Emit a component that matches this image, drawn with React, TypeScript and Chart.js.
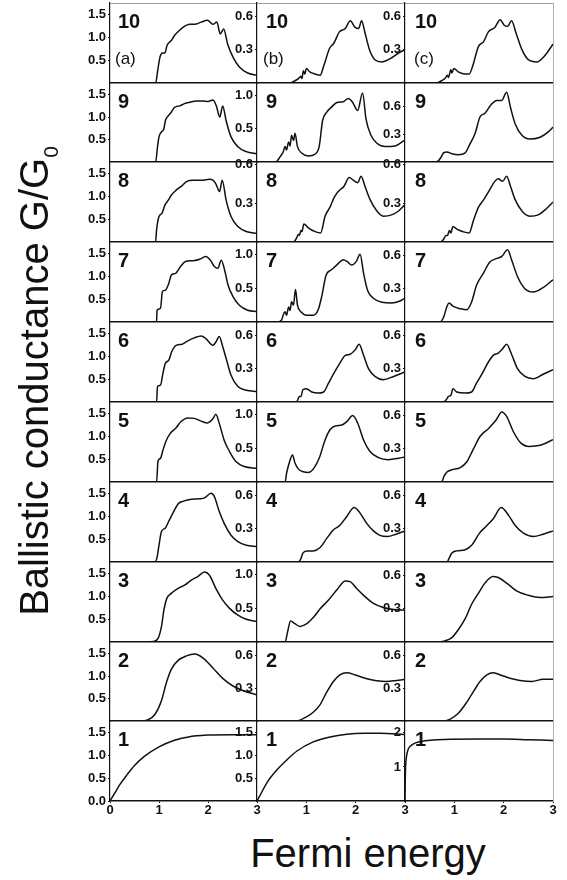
import React, { useEffect, useRef } from 'react';
import { Chart, registerables } from 'chart.js';

Chart.register(...registerables);

type Pt = [number, number];

// ---------------- data (Fermi energy, G/G0) ----------------
const a10: Pt[] = [[0,0],[0.93,0],[0.98,0.32],[1.02,0.57],[1.07,0.66],[1.12,0.66],[1.165,0.83],[1.255,0.94],[1.32,1.05],[1.42,1.16],[1.525,1.25],[1.625,1.29],[1.76,1.30],[1.86,1.34],[1.99,1.38],[2.10,1.29],[2.18,1.34],[2.25,1.08],[2.32,1.19],[2.40,0.86],[2.51,0.57],[2.64,0.35],[2.81,0.22],[3.0,0.17]];
const a9: Pt[] = [[0,0],[0.93,0],[0.97,0.34],[1.0,0.56],[1.05,0.67],[1.10,0.74],[1.13,0.92],[1.19,1.03],[1.25,1.11],[1.32,1.22],[1.42,1.25],[1.52,1.30],[1.63,1.33],[1.76,1.36],[1.90,1.36],[2.0,1.35],[2.10,1.38],[2.17,1.25],[2.24,1.0],[2.30,1.25],[2.37,0.92],[2.47,0.56],[2.61,0.34],[2.78,0.23],[3.0,0.18]];
const a8: Pt[] = [[0,0],[0.93,0],[0.95,0.26],[1.0,0.56],[1.06,0.63],[1.12,0.81],[1.19,0.92],[1.25,1.03],[1.35,1.14],[1.46,1.23],[1.56,1.33],[1.70,1.36],[1.90,1.36],[2.03,1.38],[2.10,1.36],[2.16,1.28],[2.236,1.11],[2.29,1.36],[2.37,0.92],[2.47,0.56],[2.61,0.34],[2.78,0.23],[3.0,0.19]];
const a7: Pt[] = [[0,0],[0.95,0],[0.96,0.26],[1.03,0.30],[1.07,0.67],[1.13,0.70],[1.20,0.85],[1.25,1.03],[1.34,1.07],[1.44,1.22],[1.54,1.33],[1.70,1.35],[1.83,1.38],[1.95,1.44],[2.05,1.36],[2.13,1.22],[2.20,1.18],[2.27,1.36],[2.34,1.14],[2.41,0.81],[2.51,0.56],[2.64,0.37],[2.81,0.26],[3.0,0.23]];
const a6: Pt[] = [[0,0],[0.95,0],[0.97,0.34],[1.03,0.37],[1.08,0.63],[1.13,0.85],[1.20,0.92],[1.26,1.11],[1.36,1.25],[1.47,1.27],[1.58,1.34],[1.72,1.41],[1.86,1.45],[1.96,1.39],[2.10,1.25],[2.16,1.32],[2.23,1.44],[2.30,1.22],[2.38,0.92],[2.47,0.59],[2.61,0.34],[2.78,0.26],[3.0,0.23]];
const a5: Pt[] = [[0,0],[0.95,0],[0.98,0.46],[1.03,0.52],[1.08,0.70],[1.15,0.92],[1.23,1.07],[1.34,1.18],[1.45,1.33],[1.59,1.41],[1.72,1.40],[1.86,1.34],[1.99,1.30],[2.10,1.39],[2.16,1.49],[2.23,1.29],[2.33,0.92],[2.44,0.67],[2.57,0.45],[2.74,0.34],[3.0,0.30]];
const a4: Pt[] = [[0,0],[0.92,0],[0.96,0.10],[1.0,0.37],[1.05,0.67],[1.13,0.75],[1.21,0.92],[1.30,1.11],[1.40,1.29],[1.50,1.34],[1.66,1.38],[1.83,1.39],[1.93,1.41],[2.06,1.51],[2.13,1.44],[2.23,1.11],[2.33,0.85],[2.47,0.59],[2.61,0.45],[2.78,0.37],[3.0,0.34]];
const a3: Pt[] = [[0,0],[0.75,0],[0.88,0.01],[0.98,0.08],[1.05,0.34],[1.10,0.70],[1.16,0.96],[1.25,1.07],[1.39,1.18],[1.52,1.25],[1.66,1.36],[1.79,1.44],[1.93,1.54],[2.03,1.47],[2.16,1.18],[2.30,0.92],[2.44,0.74],[2.61,0.59],[2.78,0.50],[3.0,0.45]];
const a2: Pt[] = [[0,0],[0.61,0],[0.78,0.03],[0.92,0.15],[1.05,0.45],[1.15,0.85],[1.25,1.15],[1.39,1.35],[1.56,1.45],[1.73,1.49],[1.90,1.40],[2.10,1.18],[2.30,0.95],[2.51,0.78],[2.71,0.68],[3.0,0.58]];
const a1: Pt[] = [[0,0],[0.1,0.18],[0.2,0.36],[0.35,0.58],[0.5,0.78],[0.7,0.98],[1.0,1.19],[1.3,1.33],[1.6,1.41],[2.0,1.45],[2.5,1.46],[3.0,1.46]];

const b10: Pt[] = [[0,0],[0.67,0],[0.77,0.02],[0.84,0.04],[0.89,0.06],[0.91,0.04],[0.94,0.11],[0.97,0.08],[1.0,0.13],[1.07,0.10],[1.18,0.08],[1.28,0.07],[1.35,0.15],[1.47,0.31],[1.56,0.36],[1.67,0.46],[1.79,0.49],[1.89,0.56],[1.99,0.50],[2.06,0.49],[2.12,0.56],[2.19,0.45],[2.28,0.30],[2.39,0.21],[2.53,0.19],[2.70,0.22],[2.87,0.27],[3.0,0.30]];
const b9: Pt[] = [[0,0],[0.38,0],[0.47,0.08],[0.53,0.15],[0.57,0.23],[0.60,0.18],[0.64,0.30],[0.67,0.24],[0.70,0.40],[0.74,0.32],[0.77,0.43],[0.82,0.23],[0.91,0.13],[1.04,0.09],[1.18,0.12],[1.26,0.23],[1.33,0.62],[1.41,0.74],[1.51,0.82],[1.62,0.89],[1.75,0.90],[1.85,0.95],[1.94,0.89],[2.04,0.77],[2.14,1.03],[2.21,0.64],[2.31,0.40],[2.43,0.28],[2.60,0.23],[2.80,0.24],[3.0,0.33]];
const b8: Pt[] = [[0,0],[0.74,0],[0.80,0.03],[0.84,0.06],[0.86,0.05],[0.89,0.09],[0.91,0.08],[0.95,0.14],[1.04,0.11],[1.18,0.08],[1.29,0.07],[1.38,0.20],[1.48,0.27],[1.57,0.35],[1.67,0.40],[1.76,0.43],[1.87,0.50],[1.95,0.48],[2.04,0.46],[2.11,0.51],[2.19,0.43],[2.29,0.33],[2.43,0.24],[2.56,0.20],[2.73,0.21],[2.87,0.24],[3.0,0.29]];
const b7: Pt[] = [[0,0],[0.42,0],[0.50,0.03],[0.53,0.10],[0.57,0.15],[0.60,0.10],[0.64,0.22],[0.67,0.17],[0.70,0.30],[0.74,0.25],[0.78,0.48],[0.82,0.25],[0.89,0.15],[1.01,0.10],[1.14,0.10],[1.24,0.18],[1.31,0.37],[1.40,0.69],[1.51,0.77],[1.63,0.85],[1.75,0.92],[1.83,0.89],[1.92,0.84],[2.01,0.89],[2.09,1.00],[2.16,0.72],[2.24,0.47],[2.36,0.35],[2.53,0.29],[2.73,0.28],[2.90,0.31],[3.0,0.35]];
const b6: Pt[] = [[0,0],[0.80,0],[0.86,0.05],[0.89,0.05],[0.93,0.11],[1.0,0.12],[1.11,0.09],[1.24,0.08],[1.35,0.09],[1.45,0.17],[1.56,0.26],[1.68,0.35],[1.79,0.42],[1.89,0.43],[1.99,0.47],[2.07,0.52],[2.16,0.42],[2.26,0.30],[2.39,0.23],[2.56,0.20],[2.77,0.23],[3.0,0.27]];
const b5: Pt[] = [[0,0],[0.57,0],[0.60,0.13],[0.66,0.30],[0.72,0.40],[0.77,0.28],[0.84,0.19],[0.94,0.15],[1.04,0.14],[1.14,0.19],[1.26,0.35],[1.38,0.62],[1.48,0.77],[1.60,0.83],[1.72,0.84],[1.82,0.89],[1.94,0.98],[2.04,0.87],[2.16,0.62],[2.29,0.45],[2.46,0.36],[2.66,0.33],[2.87,0.35],[3.0,0.37]];
const b4: Pt[] = [[0,0],[0.84,0],[0.89,0.03],[0.93,0.08],[1.01,0.10],[1.14,0.10],[1.28,0.13],[1.41,0.21],[1.55,0.29],[1.68,0.33],[1.82,0.41],[1.97,0.49],[2.09,0.44],[2.22,0.35],[2.36,0.28],[2.49,0.24],[2.64,0.23],[2.82,0.25],[3.0,0.28]];
const b3: Pt[] = [[0,0],[0.57,0],[0.62,0.15],[0.68,0.31],[0.77,0.27],[0.87,0.23],[1.01,0.27],[1.14,0.36],[1.28,0.49],[1.45,0.62],[1.62,0.77],[1.79,0.90],[1.89,0.89],[2.02,0.79],[2.19,0.67],[2.36,0.57],[2.56,0.51],[2.77,0.48],[3.0,0.47]];
const b2: Pt[] = [[0,0],[0.80,0],[1.01,0.04],[1.14,0.08],[1.28,0.15],[1.41,0.26],[1.55,0.36],[1.68,0.42],[1.82,0.44],[1.99,0.42],[2.19,0.39],[2.39,0.37],[2.63,0.36],[2.83,0.37],[3.0,0.38]];
const b1: Pt[] = [[0,0],[0.05,0.1],[0.2,0.4],[0.4,0.68],[0.6,0.9],[0.81,1.1],[1.14,1.3],[1.48,1.41],[1.82,1.47],[2.16,1.49],[2.5,1.49],[3.0,1.46]];

const c10: Pt[] = [[0,0],[0.64,0],[0.74,0.02],[0.81,0.04],[0.86,0.07],[0.88,0.05],[0.93,0.12],[0.95,0.09],[0.99,0.13],[1.08,0.10],[1.22,0.08],[1.30,0.08],[1.37,0.15],[1.49,0.33],[1.59,0.37],[1.69,0.46],[1.82,0.50],[1.93,0.57],[2.01,0.52],[2.08,0.51],[2.16,0.56],[2.25,0.45],[2.37,0.30],[2.50,0.21],[2.67,0.19],[2.84,0.25],[3.0,0.35]];
const c9: Pt[] = [[0,0],[0.60,0],[0.67,0.01],[0.74,0.06],[0.78,0.10],[0.85,0.11],[0.95,0.09],[1.08,0.08],[1.22,0.10],[1.32,0.20],[1.42,0.31],[1.52,0.49],[1.62,0.53],[1.74,0.62],[1.86,0.67],[1.96,0.67],[2.06,0.76],[2.14,0.59],[2.23,0.42],[2.37,0.29],[2.53,0.25],[2.74,0.27],[2.91,0.33],[3.0,0.38]];
const c8: Pt[] = [[0,0],[0.71,0],[0.78,0.02],[0.83,0.05],[0.86,0.05],[0.90,0.09],[0.93,0.07],[0.97,0.12],[1.05,0.10],[1.18,0.08],[1.30,0.07],[1.39,0.17],[1.49,0.27],[1.60,0.33],[1.71,0.40],[1.82,0.47],[1.89,0.49],[1.98,0.47],[2.06,0.51],[2.14,0.43],[2.23,0.33],[2.37,0.24],[2.53,0.20],[2.70,0.21],[2.87,0.26],[3.0,0.31]];
const c7: Pt[] = [[0,0],[0.71,0],[0.78,0.04],[0.85,0.14],[0.89,0.17],[0.98,0.14],[1.12,0.12],[1.25,0.11],[1.35,0.18],[1.45,0.33],[1.59,0.44],[1.72,0.54],[1.85,0.57],[1.96,0.59],[2.08,0.65],[2.16,0.56],[2.28,0.41],[2.43,0.30],[2.60,0.27],[2.80,0.31],[3.0,0.38]];
const c6: Pt[] = [[0,0],[0.78,0],[0.85,0.03],[0.88,0.05],[0.93,0.06],[0.97,0.12],[1.05,0.09],[1.22,0.08],[1.35,0.09],[1.45,0.17],[1.57,0.26],[1.69,0.36],[1.79,0.42],[1.89,0.44],[1.98,0.48],[2.06,0.52],[2.16,0.43],[2.28,0.30],[2.43,0.23],[2.60,0.21],[2.80,0.25],[3.0,0.29]];
const c5: Pt[] = [[0,0],[0.74,0],[0.79,0.05],[0.85,0.09],[0.95,0.11],[1.12,0.13],[1.25,0.18],[1.39,0.30],[1.52,0.41],[1.69,0.48],[1.85,0.56],[1.96,0.63],[2.06,0.59],[2.20,0.45],[2.35,0.35],[2.52,0.32],[2.74,0.33],[3.0,0.38]];
const c4: Pt[] = [[0,0],[0.85,0],[0.90,0.04],[0.95,0.08],[1.05,0.10],[1.22,0.11],[1.35,0.15],[1.51,0.26],[1.64,0.32],[1.79,0.39],[1.95,0.49],[2.10,0.42],[2.23,0.33],[2.40,0.26],[2.60,0.23],[2.80,0.25],[3.0,0.28]];
const c3: Pt[] = [[0,0],[0.64,0],[0.81,0.01],[0.95,0.04],[1.08,0.11],[1.22,0.21],[1.35,0.34],[1.49,0.44],[1.62,0.53],[1.78,0.59],[1.89,0.58],[2.06,0.53],[2.26,0.46],[2.50,0.42],[2.74,0.40],[3.0,0.41]];
const c2: Pt[] = [[0,0],[0.74,0],[0.91,0.015],[1.08,0.07],[1.25,0.17],[1.39,0.27],[1.52,0.36],[1.66,0.42],[1.78,0.44],[1.93,0.42],[2.13,0.39],[2.33,0.37],[2.57,0.36],[2.80,0.38],[3.0,0.38]];
const c1: Pt[] = [[0,0],[0.005,0.6],[0.012,1.0],[0.03,1.3],[0.06,1.5],[0.1,1.6],[0.2,1.7],[0.4,1.77],[0.8,1.81],[1.5,1.82],[2.0,1.82],[2.5,1.80],[3.0,1.78]];

const ROW_NUMBERS = ['10', '9', '8', '7', '6', '5', '4', '3', '2', '1'];
const COLUMN_TAGS = ['(a)', '(b)', '(c)'];

const CURVES_A = [a10, a9, a8, a7, a6, a5, a4, a3, a2, a1];
const CURVES_B = [b10, b9, b8, b7, b6, b5, b4, b3, b2, b1];
const CURVES_C = [c10, c9, c8, c7, c6, c5, c4, c3, c2, c1];

const YMAX_A = [1.76, 1.76, 1.76, 1.76, 1.76, 1.76, 1.76, 1.76, 1.76, 1.76];
const YMAX_B = [0.72, 1.18, 0.62, 1.18, 0.72, 1.18, 0.72, 1.18, 0.72, 1.76];
const YMAX_C = [0.72, 0.86, 0.62, 0.72, 0.72, 0.72, 0.72, 0.72, 0.72, 2.35];

const T_A = ['0.5', '1.0', '1.5'];
const T_A0 = ['0.0', '0.5', '1.0', '1.5'];
const T_06 = ['0.3', '0.6'];
const T_10 = ['0.5', '1.0'];
const T_C1 = ['1', '2'];
const YTICKS_A = [T_A, T_A, T_A, T_A, T_A, T_A, T_A, T_A, T_A, T_A0];
const YTICKS_B = [T_06, T_10, T_06, T_10, T_06, T_10, T_06, T_10, T_06, T_A];
const YTICKS_C = [T_06, T_06, T_06, T_06, T_06, T_06, T_06, T_06, T_06, T_C1];

const XTICKS_A = [0, 1, 2, 3];
const XTICKS_BC = [1, 2, 3];

const X_TITLE = 'Fermi energy';
const Y_TITLE = 'Ballistic conductance G/G';
const Y_TITLE_SUB = '0';

// ---------------- layout ----------------
const FONT = "'Liberation Sans', Arial, Helvetica, sans-serif";
const COL_EDGES = [110, 257, 405, 553];
const ROW_EDGES = [3, 83, 162, 242, 322, 402, 482, 562, 642, 721, 801];
const AXW = 40;
const PAD = 10;
const XH = 16;
const INK = '#111';

type PanelProps = {
  col: number;
  row: number;
  pts: Pt[];
  ymax: number;
  yticks: string[];
  xticks: number[];
};

function Panel({ col, row, pts, ymax, yticks, xticks }: PanelProps) {
  const ref = useRef<HTMLCanvasElement>(null);
  const left = COL_EDGES[col];
  const w = COL_EDGES[col + 1] - COL_EDGES[col];
  const top = ROW_EDGES[row];
  const h = ROW_EDGES[row + 1] - ROW_EDGES[row];
  const isBottom = row === 9;
  const xh = isBottom ? XH : 0;
  const cw = PAD + AXW + w + PAD;
  const ch = PAD + h + xh + PAD;

  useEffect(() => {
    const scales: any = {
      x: {
        type: 'linear',
        position: 'bottom',
        min: 0,
        max: 3,
        afterFit: (s: any) => { s.height = xh; },
        afterBuildTicks: (s: any) => { s.ticks = xticks.map((v) => ({ value: v })); },
        ticks: {
          display: isBottom,
          font: { family: FONT, size: 13, weight: 'bold' },
          color: INK,
          padding: 0,
          maxRotation: 0,
          autoSkip: false,
          callback: (v: any) => String(v),
        },
        grid: { display: isBottom, drawOnChartArea: false, tickLength: 2, color: INK },
        border: { display: true, color: INK, width: 1.6 },
      },
      y: {
        type: 'linear',
        position: 'left',
        min: 0,
        max: ymax,
        afterFit: (s: any) => { s.width = AXW; },
        afterBuildTicks: (s: any) => { s.ticks = yticks.map((t) => ({ value: parseFloat(t) })); },
        ticks: {
          font: { family: FONT, size: 13, weight: 'bold' },
          color: INK,
          padding: 2,
          autoSkip: false,
          callback: (_v: any, i: number) => yticks[i],
        },
        grid: { display: true, drawOnChartArea: false, tickLength: 2, color: INK },
        border: { display: true, color: INK, width: 1.2 },
      },
    };
    if (row === 0) {
      scales.xTop = {
        type: 'linear',
        position: 'top',
        afterFit: (s: any) => { s.height = 0; },
        ticks: { display: false },
        grid: { display: false },
        border: { display: true, color: '#9a9a9a', width: 1, dash: [2, 2] },
      };
    }
    if (col === 2) {
      scales.yRight = {
        type: 'linear',
        position: 'right',
        afterFit: (s: any) => { s.width = 0; },
        ticks: { display: false },
        grid: { display: false },
        border: { display: true, color: '#b0b0b0', width: 1, dash: [2, 3] },
      };
    }
    const chart = new Chart(ref.current as HTMLCanvasElement, {
      type: 'line',
      data: {
        datasets: [
          {
            data: pts.map(([x, y]) => ({ x, y })),
            xAxisID: 'x',
            yAxisID: 'y',
            borderColor: INK,
            borderWidth: 1.5,
            pointRadius: 0,
            fill: false,
            cubicInterpolationMode: 'monotone',
          } as any,
        ],
      },
      options: {
        responsive: false,
        maintainAspectRatio: false,
        animation: false,
        events: [],
        layout: { padding: PAD },
        plugins: { legend: { display: false }, tooltip: { enabled: false }, title: { display: false } },
        scales,
      } as any,
    });
    return () => chart.destroy();
  }, []);

  return (
    <canvas
      ref={ref}
      width={cw}
      height={ch}
      style={{ position: 'absolute', left: left - AXW - PAD, top: top - PAD, width: cw, height: ch }}
    />
  );
}

const NUM_DX = [8, 9, 10];
const TAG_DX = [5, 6, 9];

export default function App() {
  const cols = [
    { curves: CURVES_A, ymax: YMAX_A, yt: YTICKS_A, xt: XTICKS_A },
    { curves: CURVES_B, ymax: YMAX_B, yt: YTICKS_B, xt: XTICKS_BC },
    { curves: CURVES_C, ymax: YMAX_C, yt: YTICKS_C, xt: XTICKS_BC },
  ];
  return (
    <div
      style={{
        position: 'absolute',
        left: 0,
        top: 0,
        width: 567,
        height: 880,
        background: '#fff',
        overflow: 'hidden',
        fontFamily: FONT,
        color: INK,
      }}
    >
      {cols.map((c, ci) =>
        c.curves.map((pts, ri) => (
          <Panel
            key={`${ci}-${ri}`}
            col={ci}
            row={ri}
            pts={pts}
            ymax={c.ymax[ri]}
            yticks={c.yt[ri]}
            xticks={c.xt}
          />
        ))
      )}
      {cols.map((_c, ci) =>
        ROW_NUMBERS.map((n, ri) => (
          <div
            key={`n-${ci}-${ri}`}
            style={{
              position: 'absolute',
              left: COL_EDGES[ci] + NUM_DX[ci],
              top: ROW_EDGES[ri] + 7.5,
              fontSize: 20,
              lineHeight: '20px',
              fontWeight: 'bold',
              whiteSpace: 'nowrap',
            }}
          >
            {n}
          </div>
        ))
      )}
      {COLUMN_TAGS.map((t, ci) => (
        <div
          key={`t-${ci}`}
          style={{
            position: 'absolute',
            left: COL_EDGES[ci] + TAG_DX[ci],
            top: ROW_EDGES[0] + 47,
            fontSize: 17,
            lineHeight: '17px',
            whiteSpace: 'nowrap',
          }}
        >
          {t}
        </div>
      ))}
      <div
        style={{
          position: 'absolute',
          left: 34 - 300,
          top: 381 - 20,
          width: 600,
          height: 40,
          fontSize: 40,
          lineHeight: '40px',
          textAlign: 'center',
          whiteSpace: 'nowrap',
          transform: 'rotate(-90deg)',
          transformOrigin: '50% 50%',
        }}
      >
        {Y_TITLE}
        <span style={{ fontSize: 21, position: 'relative', top: 10 }}>{Y_TITLE_SUB}</span>
      </div>
      <div
        style={{
          position: 'absolute',
          left: 368 - 200,
          top: 833,
          width: 400,
          fontSize: 40,
          lineHeight: '40px',
          textAlign: 'center',
          whiteSpace: 'nowrap',
        }}
      >
        {X_TITLE}
      </div>
    </div>
  );
}
